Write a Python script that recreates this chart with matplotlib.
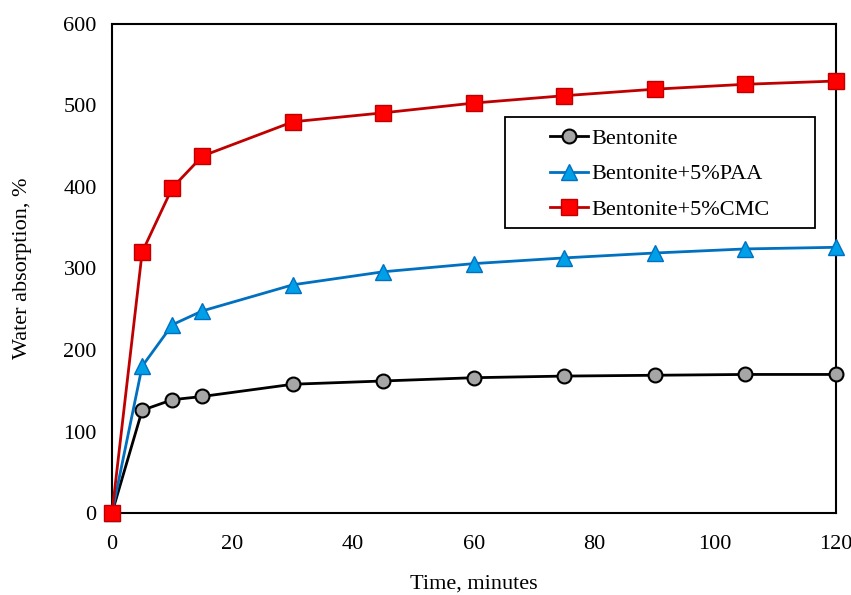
import matplotlib
matplotlib.use("Agg")
import matplotlib.pyplot as plt
from matplotlib.patches import Rectangle

time = [0, 5, 10, 15, 30, 45, 60, 75, 90, 105, 120]
bentonite = [0, 126, 139, 143, 158, 162, 166, 168, 169, 170, 170]
paa = [0, 180, 231, 248, 280, 296, 306, 313, 319, 324, 326]
cmc = [0, 320, 399, 438, 480, 491, 503, 512, 520, 526, 530]
labels = ["Bentonite", "Bentonite+5%PAA", "Bentonite+5%CMC"]

plt.rcParams['font.family'] = ['Liberation Serif', 'DejaVu Serif']

fig = plt.figure(figsize=(8.51, 5.95), dpi=100)
ax = fig.add_axes([0.1316, 0.1378, 0.8504, 0.8219])

ax.plot(time, bentonite, color='black', lw=2, marker='o', ms=10,
        mfc='#A6A6A6', mec='black', mew=1.5, label=labels[0], zorder=3)
ax.plot(time, paa, color='#0070C0', lw=2, marker='^', ms=11,
        mfc='#00A0E8', mec='#0070C0', mew=1, label=labels[1], zorder=3)
ax.plot(time, cmc, color='#C00000', lw=2, marker='s', ms=11,
        mfc='#FF0000', mec='#C00000', mew=1, label=labels[2], zorder=4)

ax.set_xlim(0, 120)
ax.set_ylim(0, 600)
ax.set_xticks(range(0, 121, 20))
ax.set_yticks(range(0, 601, 100))
ax.tick_params(length=0, labelsize=16)
ax.tick_params(axis='x', pad=16)
ax.tick_params(axis='y', pad=11)
for s in ax.spines.values():
    s.set_linewidth(1.5)
for c in ax.lines:
    c.set_clip_on(False)

ax.set_xlabel("Time, minutes", fontsize=16)
ax.set_ylabel("Water absorption, %", fontsize=16)
ax.xaxis.set_label_coords(0.5, -0.126)
ax.yaxis.set_label_coords(-0.11, 0.5)

# legend frame
ax.add_patch(Rectangle((0.543, 0.583), 0.428, 0.227, transform=ax.transAxes,
                       facecolor='white', edgecolor='black', lw=1.3, zorder=5))
leg = ax.legend(loc='upper left', bbox_to_anchor=(0.605, 0.786), fontsize=16,
                frameon=False, handlelength=1.7, borderpad=0, labelspacing=0.66,
                handletextpad=0.15, borderaxespad=0)
leg.set_zorder(6)

fig.savefig("out.png", dpi=100)
